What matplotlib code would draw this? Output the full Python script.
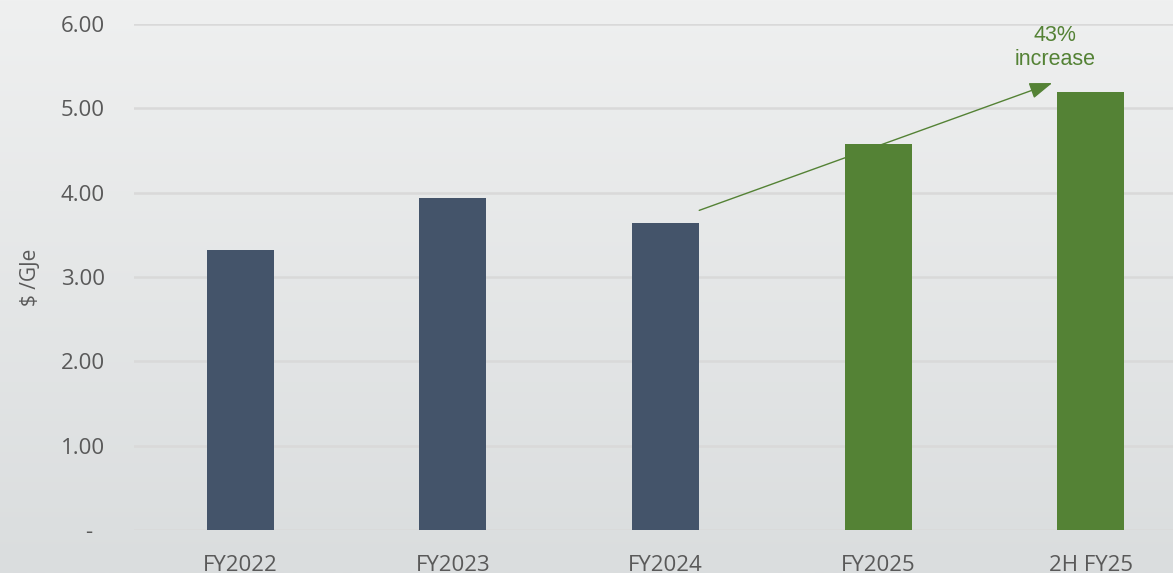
import matplotlib.pyplot as plt
import numpy as np

categories = ['FY2022', 'FY2023', 'FY2024', 'FY2025', '2H FY25']
values = [3.32, 3.94, 3.64, 4.58, 5.19]
bar_colors = ['#44546A', '#44546A', '#44546A', '#548235', '#548235']
yticks = [0, 1, 2, 3, 4, 5, 6]

fig = plt.figure(figsize=(11.73, 5.73), dpi=100)

# gradient background
bg = fig.add_axes([0, 0, 1, 1], zorder=0)
grad = np.linspace(0, 1, 256).reshape(-1, 1)
top = np.array([0xEF, 0xF0, 0xF0]) / 255
bot = np.array([0xDA, 0xDD, 0xDE]) / 255
img = top + (bot - top) * grad[:, :, None]
bg.imshow(img, aspect='auto', extent=[0, 1, 0, 1])
bg.axis('off')

ax = fig.add_axes([134 / 1173, 43 / 573, (1173 - 134) / 1173, 506 / 573], zorder=1)
ax.patch.set_alpha(0)
x = np.arange(len(categories))
ax.bar(x, values, width=0.315, color=bar_colors, zorder=2)

ax.set_xlim(-0.5, 4.386)
ax.set_ylim(0, 6)
ax.set_yticks(yticks)
ax.set_yticklabels(['-  ' if v == 0 else f'{v:.2f}' for v in yticks])
ax.set_xticks(x)
ax.set_xticklabels(categories)
ax.grid(axis='y', color='#D9D9D9', linewidth=1.8, zorder=0)
ax.set_axisbelow(True)
for s in ax.spines.values():
    s.set_visible(False)
ax.tick_params(axis='both', length=0, labelsize=16, labelcolor='#595959')
ax.tick_params(axis='x', pad=18)
ax.tick_params(axis='y', pad=21)
for lab in ax.get_xticklabels() + ax.get_yticklabels():
    lab.set_fontfamily('Open Sans')
ax.set_ylabel('$ /GJe', fontsize=15, color='#595959', family='Open Sans', labelpad=14)

ax.annotate('', xy=(3.818, 5.30), xytext=(2.158, 3.79),
            arrowprops=dict(arrowstyle='-|>,head_length=1.4,head_width=0.5',
                            color='#548235', lw=1.0, shrinkA=0, shrinkB=0), zorder=3)
ax.text(3.83, 5.72, '43%\nincrease', ha='center', va='center', fontsize=15.5,
        color='#548235', family='Liberation Sans', linespacing=1.15)

fig.savefig('out.png', dpi=100)
